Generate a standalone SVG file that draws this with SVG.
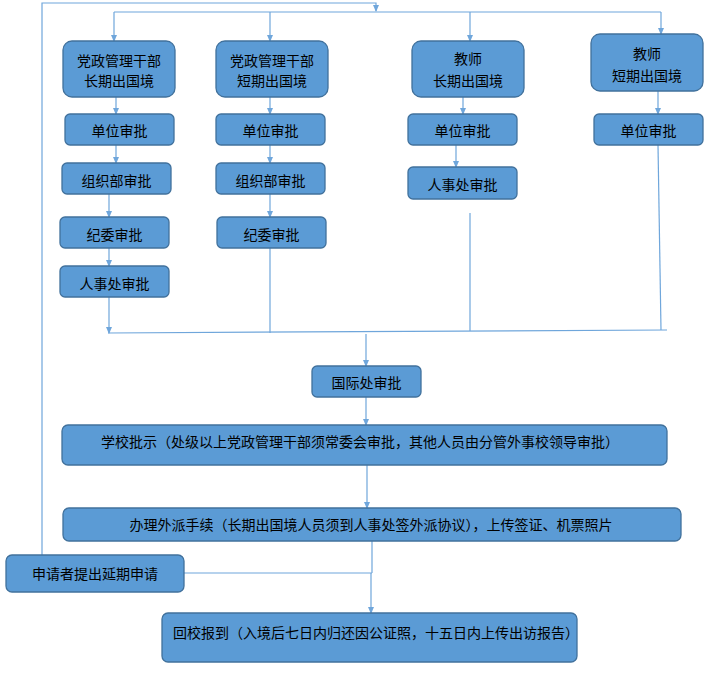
<svg xmlns="http://www.w3.org/2000/svg" width="717" height="676" viewBox="0 0 717 676">
<style>
.n rect{fill:#5B9BD5;stroke:#41719C;stroke-width:1.3}
.n text{font-family:"Noto Sans CJK SC","Liberation Sans",sans-serif;font-size:14px;fill:#000;text-anchor:middle;dominant-baseline:central}
#c line,#c polyline{stroke:#6FA6DB;stroke-width:1.2;fill:none}
</style>
<defs>
<marker id="a" viewBox="0 0 8 8" refX="7" refY="4" markerWidth="7" markerHeight="7" markerUnits="userSpaceOnUse" orient="auto">
<path d="M0,0.5 L8,4 L0,7.5 Z" fill="#6FA6DB"/>
</marker>
</defs>
<rect width="717" height="676" fill="#fff"/>
<g id="c">
<polyline points="42,555 42,3 376,3 376,11" marker-end="url(#a)"/>
<line x1="114" y1="12" x2="661" y2="12"/>
<line x1="114" y1="12" x2="114" y2="41" marker-end="url(#a)"/>
<line x1="270" y1="12" x2="270" y2="41" marker-end="url(#a)"/>
<line x1="470" y1="12" x2="470" y2="41" marker-end="url(#a)"/>
<line x1="661" y1="12" x2="661" y2="34" marker-end="url(#a)"/>
<line x1="116" y1="97" x2="116" y2="114" marker-end="url(#a)"/>
<line x1="116" y1="145" x2="116" y2="163" marker-end="url(#a)"/>
<line x1="109" y1="194" x2="109" y2="217" marker-end="url(#a)"/>
<line x1="109" y1="248" x2="109" y2="266" marker-end="url(#a)"/>
<line x1="109" y1="297" x2="109" y2="333" marker-end="url(#a)"/>
<line x1="270" y1="97" x2="270" y2="114" marker-end="url(#a)"/>
<line x1="270" y1="145" x2="270" y2="163" marker-end="url(#a)"/>
<line x1="270" y1="194" x2="270" y2="217" marker-end="url(#a)"/>
<line x1="270" y1="248" x2="270" y2="333"/>
<line x1="463" y1="97" x2="463" y2="114" marker-end="url(#a)"/>
<line x1="456" y1="145" x2="456" y2="167" marker-end="url(#a)"/>
<line x1="470" y1="213" x2="470" y2="331"/>
<line x1="658" y1="91" x2="658" y2="114" marker-end="url(#a)"/>
<line x1="658" y1="145" x2="661" y2="330"/>
<line x1="108" y1="333" x2="667" y2="330"/>
<line x1="366" y1="334" x2="366" y2="366" marker-end="url(#a)"/>
<line x1="366" y1="397" x2="366" y2="425" marker-end="url(#a)"/>
<line x1="367" y1="465" x2="367" y2="508" marker-end="url(#a)"/>
<line x1="372" y1="541" x2="372" y2="573"/>
<line x1="184" y1="573" x2="372" y2="573"/>
<line x1="371" y1="573" x2="371" y2="613" marker-end="url(#a)"/>
</g>
<g id="n1" class="n"><rect x="63" y="41" width="112" height="56" rx="9"/><text x="119" y="60">党政管理干部</text><text x="119" y="80">长期出国境</text></g>
<g id="n2" class="n"><rect x="216" y="41" width="112" height="56" rx="9"/><text x="272" y="60">党政管理干部</text><text x="272" y="80">短期出国境</text></g>
<g id="n3" class="n"><rect x="412" y="41" width="112" height="56" rx="9"/><text x="468" y="58">教师</text><text x="468" y="80">长期出国境</text></g>
<g id="n4" class="n"><rect x="591" y="34" width="112" height="57" rx="9"/><text x="647" y="53">教师</text><text x="647" y="75">短期出国境</text></g>
<g id="n5" class="n"><rect x="65" y="114" width="109" height="31" rx="5"/><text x="119.5" y="130">单位审批</text></g>
<g id="n6" class="n"><rect x="216" y="114" width="109" height="31" rx="5"/><text x="270.5" y="130">单位审批</text></g>
<g id="n7" class="n"><rect x="408" y="114" width="109" height="31" rx="5"/><text x="462.5" y="130">单位审批</text></g>
<g id="n8" class="n"><rect x="594" y="114" width="109" height="31" rx="5"/><text x="648.5" y="130">单位审批</text></g>
<g id="n9" class="n"><rect x="62" y="163" width="109" height="31" rx="5"/><text x="116.5" y="180">组织部审批</text></g>
<g id="n10" class="n"><rect x="216" y="163" width="109" height="31" rx="5"/><text x="270.5" y="180">组织部审批</text></g>
<g id="n11" class="n"><rect x="408" y="167" width="109" height="32" rx="5"/><text x="462.5" y="184">人事处审批</text></g>
<g id="n12" class="n"><rect x="60" y="217" width="109" height="31" rx="5"/><text x="114.5" y="234">纪委审批</text></g>
<g id="n13" class="n"><rect x="217" y="217" width="109" height="31" rx="5"/><text x="271.5" y="234">纪委审批</text></g>
<g id="n14" class="n"><rect x="60" y="266" width="109" height="31" rx="5"/><text x="114.5" y="283">人事处审批</text></g>
<g id="n15" class="n"><rect x="312" y="366" width="109" height="31" rx="5"/><text x="366.5" y="382">国际处审批</text></g>
<g id="n16" class="n"><rect x="62" y="425" width="605" height="40" rx="6"/><text x="360" y="441">学校批示（处级以上党政管理干部须常委会审批，其他人员由分管外事校领导审批）</text></g>
<g id="n17" class="n"><rect x="63" y="508" width="618" height="33" rx="6"/><text x="371" y="524">办理外派手续（长期出国境人员须到人事处签外派协议），上传签证、机票照片</text></g>
<g id="n18" class="n"><rect x="6" y="555" width="178" height="37" rx="6"/><text x="95" y="573">申请者提出延期申请</text></g>
<g id="n19" class="n"><rect x="162" y="613" width="415" height="49" rx="6"/><text x="173" y="632" style="text-anchor:start">回校报到（入境后七日内归还因公证照，十五日内上传出访报告）</text></g>
</svg>
